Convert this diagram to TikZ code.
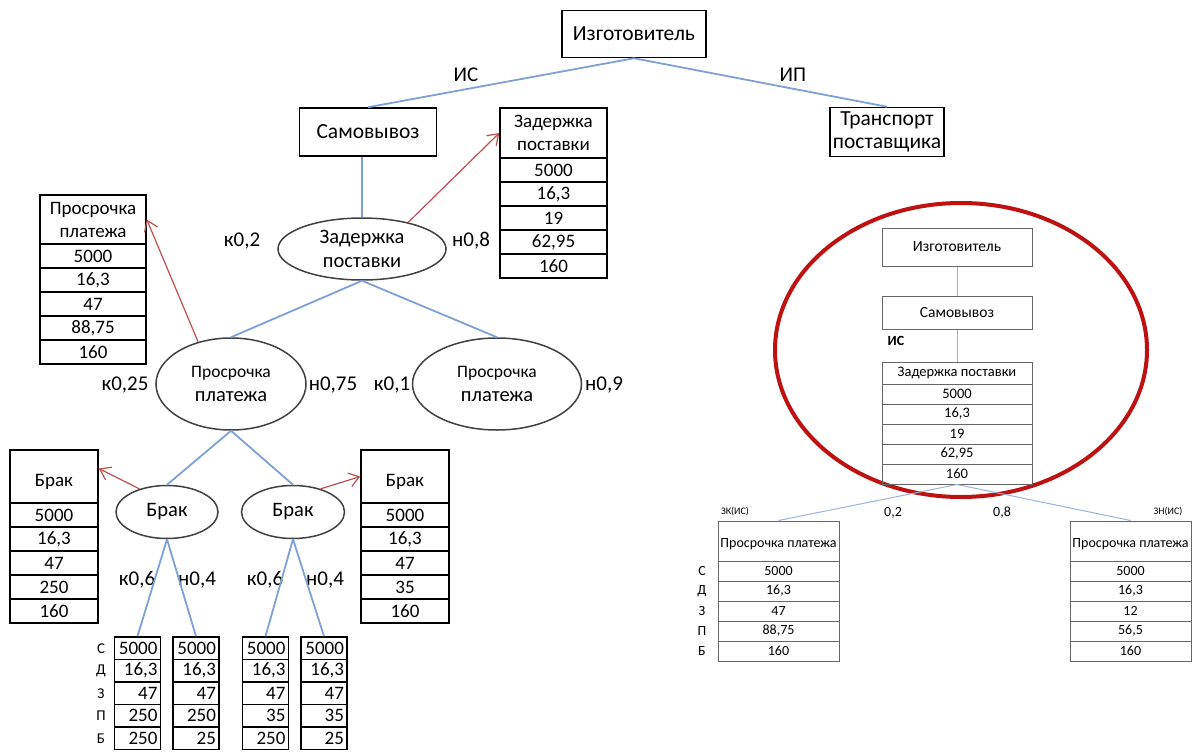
\documentclass[tikz,border=0pt]{standalone}
\usepackage{fontspec}
\setmainfont{Carlito}
\usetikzlibrary{shapes.geometric, arrows.meta}

\definecolor{branchblue}{RGB}{126,160,212}
\definecolor{pointred}{RGB}{192,80,77}
\definecolor{ringred}{RGB}{190,18,18}

\begin{document}
\begin{tikzpicture}[x=1pt, y=-1pt]

\tikzset{box/.style = {shape=rectangle, draw, line width=1.5pt, inner sep=0pt, align=center, font=\fontsize{21.5}{23}\selectfont}}
\tikzset{cell/.style = {box, minimum height=24, font=\fontsize{19}{23}\selectfont}}
\tikzset{numcell/.style = {cell, minimum width=46, minimum height=22.5, text width=40, align=right}}
\tikzset{oval/.style = {shape=ellipse, draw=black!75, line width=1.5pt, inner sep=0pt, align=center, font=\fontsize{20.5}{24}\selectfont}}
\tikzset{prob/.style = {font=\fontsize{21}{23}\selectfont}}
\tikzset{rowtag/.style = {font=\fontsize{15}{18}\selectfont}}
\tikzset{branch/.style = {draw=branchblue, line width=1.8pt}}
\tikzset{pointer/.style = {->, > = {Straight Barb[length=10pt, width=14pt]}, draw=pointred, line width=1.2pt}}
\tikzset{minibox/.style = {shape=rectangle, draw=black!60, line width=1pt, inner sep=0pt, align=center, font=\fontsize{14.5}{15}\selectfont}}
\tikzset{minitag/.style = {font=\fontsize{14}{15}\selectfont}}
\tikzset{thinbranch/.style = {draw=branchblue!80, line width=1pt}}

\useasboundingbox (0,0) rectangle (1197,752);

%tree
\node[box, minimum width=144, minimum height=47] (izg) at (634,34) {Изготовитель};
\node[box, minimum width=137, minimum height=48] (sam) at (368,132) {Самовывоз};
\node[box, minimum width=114, minimum height=49] (trans) at (887,132) {Транспорт\\поставщика};
\node[prob] (is) at (466,75) {ИС};
\node[prob] (ip) at (793,75) {ИП};

\node[oval, minimum width=168, minimum height=62] (zd) at (362,249) {Задержка\\поставки};
\node[prob] (zdk) at (242,241) {к0,2};
\node[prob] (zdn) at (471,241) {н0,8};

\node[oval, minimum width=150, minimum height=92] (pay1) at (231,384) {{\fontsize{17.5}{20}\selectfont Просрочка}\\платежа};
\node[oval, minimum width=169, minimum height=92] (pay2) at (497,384) {{\fontsize{17.5}{20}\selectfont Просрочка}\\платежа};
\node[prob] (payk1) at (125,385) {к0,25};
\node[prob] (payn1) at (333,385) {н0,75};
\node[prob] (payk2) at (392,385) {к0,1};
\node[prob] (payn2) at (604,385) {н0,9};

\node[oval, minimum width=102, minimum height=53] (b1) at (167,512) {Брак};
\node[oval, minimum width=103, minimum height=53] (b2) at (293,512) {Брак};
\node[prob] (bk1) at (137,580) {к0,6};
\node[prob] (bn1) at (197,580) {н0,4};
\node[prob] (bk2) at (265,580) {к0,6};
\node[prob] (bn2) at (325,580) {н0,4};

%tables
\node[cell, minimum width=107, minimum height=50] (zadh) at (553.5,133) {Задержка\\поставки};
\foreach \v [count=\i] in {5000,{16,3},19,{62,95},160}
  \node[cell, minimum width=107] (zad\i) at (553.5,146+24*\i) {\v};

\node[cell, minimum width=106, minimum height=49] (payh) at (93,219.5) {Просрочка\\платежа};
\foreach \v [count=\i] in {5000,{16,3},47,{88,75},160}
  \node[cell, minimum width=106] (payt\i) at (93,232+24*\i) {\v};

\node[cell, minimum width=88, minimum height=53] (b1h) at (54,476.5) {\mbox{}\\Брак};
\foreach \v [count=\i] in {5000,{16,3},47,250,160}
  \node[cell, minimum width=88] (bl\i) at (54,491+24*\i) {\v};

\node[cell, minimum width=88, minimum height=53] (b2h) at (405,476.5) {\mbox{}\\Брак};
\foreach \v [count=\i] in {5000,{16,3},47,35,160}
  \node[cell, minimum width=88] (br\i) at (405,491+24*\i) {\v};

\foreach \r [count=\i] in {С,Д,З,П,Б}
  \node[rowtag] (tag\i) at (101,625.75+22.5*\i) {\r};
\foreach \v [count=\i] in {5000,{16,3},47,250,250}
  \node[numcell] (ta\i) at (137.5,625.75+22.5*\i) {\v};
\foreach \v [count=\i] in {5000,{16,3},47,250,25}
  \node[numcell] (tb\i) at (196,625.75+22.5*\i) {\v};
\foreach \v [count=\i] in {5000,{16,3},47,35,250}
  \node[numcell] (tc\i) at (265.5,625.75+22.5*\i) {\v};
\foreach \v [count=\i] in {5000,{16,3},47,35,25}
  \node[numcell] (td\i) at (324,625.75+22.5*\i) {\v};

%edges
\draw[branch] (izg.south) -- (sam.north);
\draw[branch] (izg.south) -- (trans.north);
\draw[branch] (zd.north |- sam.south) -- (zd.north);
\draw[branch] (zd.south) -- (pay1.north);
\draw[branch] (zd.south) -- (pay2.north);
\draw[branch] (pay1.south) -- (b1.north);
\draw[branch] (pay1.south) -- (b2.north);
\draw[branch] (b1.south) -- (ta1.north);
\draw[branch] (b1.south) -- (tb1.north);
\draw[branch] (b2.south) -- (tc1.north);
\draw[branch] (b2.south) -- (td1.north);
\draw[pointer] (zd.30) -- (zadh.west);
\draw[pointer] (pay1.128) -- (payh.east);
\draw[pointer] (b1.140) -- ([yshift=8pt]b1h.east);
\draw[pointer] (b2.40) -- (b2h.west);

%short scheme
\draw[ringred, line width=4pt] (961,350) ellipse [x radius=186pt, y radius=147pt];
\node[minibox, minimum width=150, minimum height=38, font=\fontsize{15.5}{17}\selectfont] (izg2) at (957,247) {Изготовитель};
\node[minibox, minimum width=150, minimum height=33, font=\fontsize{15.5}{17}\selectfont] (sam2) at (957,312.5) {Самовывоз};
\node[minitag, font=\fontsize{14}{15}\selectfont\bfseries] (is2) at (896,341) {ИС};
\node[minibox, minimum width=150, minimum height=22] (zad2h) at (957,373) {Задержка поставки};
\foreach \v [count=\i] in {5000,{16,3},19,{62,95},160}
  \node[minibox, minimum width=150, minimum height=20] (zs\i) at (957,374+20*\i) {\v};

\node[minibox, minimum width=121, minimum height=40, font=\fontsize{14}{15}\selectfont] (pay3h) at (778.5,541) {\mbox{}\\Просрочка платежа};
\foreach \v [count=\i] in {5000,{16,3},47,{88,75},160}
  \node[minibox, minimum width=121, minimum height=20, font=\fontsize{14}{15}\selectfont] (pl\i) at (778.5,551+20*\i) {\v};
\node[minibox, minimum width=121, minimum height=40, font=\fontsize{14}{15}\selectfont] (pay4h) at (1130.5,541) {\mbox{}\\Просрочка платежа};
\foreach \v [count=\i] in {5000,{16,3},12,{56,5},160}
  \node[minibox, minimum width=121, minimum height=20, font=\fontsize{14}{15}\selectfont] (pr\i) at (1130.5,551+20*\i) {\v};
\foreach \r [count=\i] in {С,Д,З,П,Б}
  \node[minitag] (stag\i) at (702,551+20*\i) {\r};

\node[minitag, font=\fontsize{10}{11}\selectfont] (zk) at (735,512) {ЗК(ИС)};
\node[minitag] (p02) at (893,513) {0,2};
\node[minitag] (p08) at (1002,513) {0,8};
\node[minitag, font=\fontsize{10}{11}\selectfont] (zn) at (1168,512) {ЗН(ИС)};

\draw[thinbranch] (izg2.south) -- (sam2.north);
\draw[thinbranch] (sam2.south) -- (zad2h.north);
\draw[thinbranch] (zs5.south) -- (pay3h.north);
\draw[thinbranch] (zs5.south) -- (pay4h.north);

\end{tikzpicture}
\end{document}
